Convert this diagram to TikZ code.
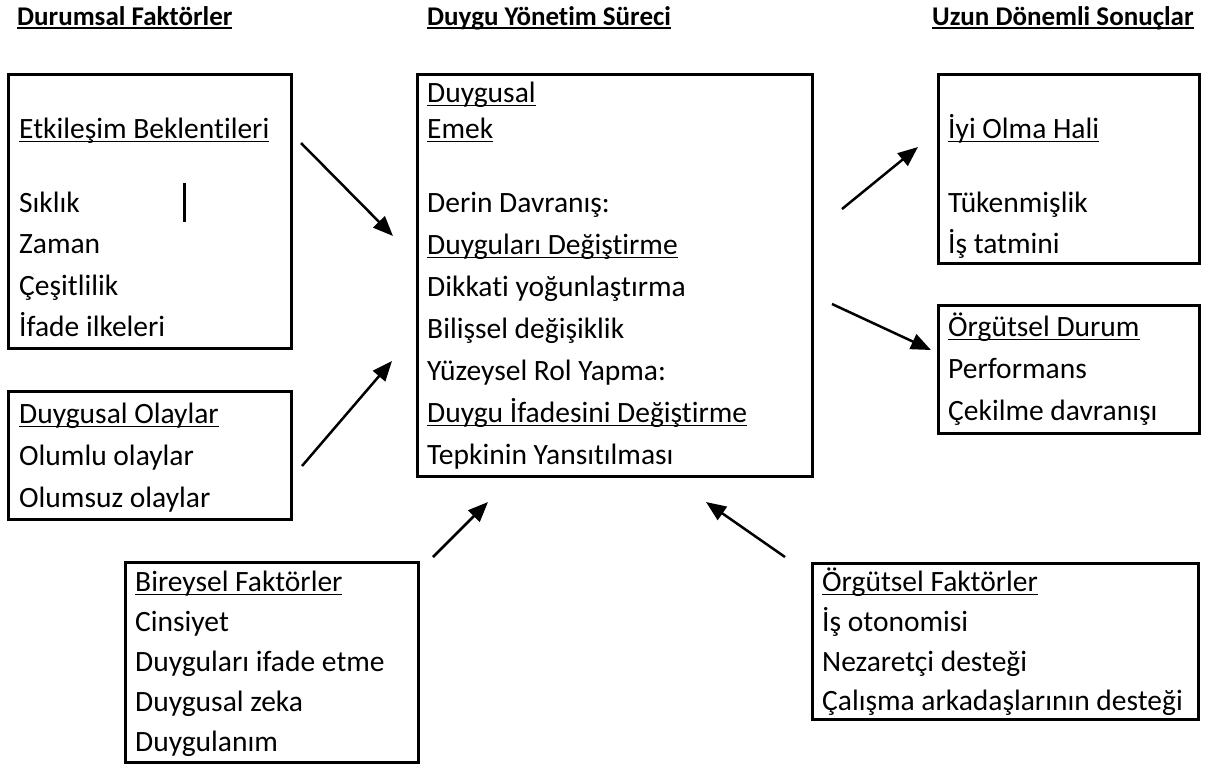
\documentclass[tikz,border=0pt]{standalone}
\usepackage{fontspec}
\setmainfont{Carlito}[Ligatures=NoCommon]
\usetikzlibrary{arrows.meta}
\newlength\undlwd
\newcommand\undl[2][1.5pt]{\settowidth\undlwd{#2}\rlap{\rule[-4pt]{\undlwd}{#1}}#2}
\tikzset{
  box/.style={draw, line width=3pt, inner sep=0pt},
  txt/.style={anchor=base west, inner sep=0pt, font=\fontsize{29.5}{35}\selectfont},
  head/.style={txt, font=\fontsize{27}{32}\selectfont\bfseries},
  arr/.style={->, line width=2.5pt},
}
\begin{document}
\begin{tikzpicture}[x=1pt,y=-1pt,>={Triangle[length=20pt,width=16pt]},line join=miter]
\useasboundingbox (0,0) rectangle (1207,764);
%% headings
\node (head_left) at (17,25) [head] {\undl[2.2pt]{Durumsal Faktörler}};
\node (head_mid) at (427,25) [head] {\undl[2.2pt]{Duygu Yönetim Süreci}};
\node (head_right) at (932,25) [head] {\undl[2.2pt]{Uzun Dönemli Sonuçlar}};
%% boxes
\node (durum_box) at (149.5,211) [box,minimum width=283pt,minimum height=274pt] {};
\node (olay_box) at (149.5,455) [box,minimum width=283pt,minimum height=128pt] {};
\node (surec_box) at (614.5,275) [box,minimum width=395pt,minimum height=402pt] {};
\node (iyi_box) at (1068.5,168.5) [box,minimum width=261pt,minimum height=189pt] {};
\node (orgd_box) at (1068.5,369) [box,minimum width=261pt,minimum height=128pt] {};
\node (birey_box) at (271.5,662) [box,minimum width=293pt,minimum height=200pt] {};
\node (orgf_box) at (1005,641) [box,minimum width=386pt,minimum height=156pt] {};
%% durumsal faktorler
\node (durum_0) at (19,138) [txt] {\undl{Etkileşim Beklentileri}};
\node (durum_1) at (19,212) [txt] {Sıklık};
\node (durum_2) at (19,253) [txt] {Zaman};
\node (durum_3) at (19,295) [txt] {Çeşitlilik};
\node (durum_4) at (19,336) [txt] {İfade ilkeleri};
\coordinate (bar_top) at (184,183);
\coordinate (bar_bot) at (184,222);
\draw [line width=3pt] (bar_top) -- (bar_bot);
%% duygusal olaylar
\node (olay_0) at (19,423) [txt] {\undl{Duygusal Olaylar}};
\node (olay_1) at (19,465) [txt] {Olumlu olaylar};
\node (olay_2) at (19,507) [txt] {Olumsuz olaylar};
%% duygu yonetim sureci
\node (surec_0) at (427,102) [txt] {\undl{Duygusal}};
\node (surec_1) at (427,138) [txt] {\undl{Emek}};
\node (surec_2) at (427,212) [txt] {Derin Davranış:};
\node (surec_3) at (427,254) [txt] {\undl{Duyguları Değiştirme}};
\node (surec_4) at (427,296) [txt] {Dikkati yoğunlaştırma};
\node (surec_5) at (427,338) [txt] {Bilişsel değişiklik};
\node (surec_6) at (427,380) [txt] {Yüzeysel Rol Yapma:};
\node (surec_7) at (427,422) [txt] {\undl{Duygu İfadesini Değiştirme}};
\node (surec_8) at (427,464) [txt] {Tepkinin Yansıtılması};
%% sonuclar
\node (iyi_0) at (948,138) [txt] {\undl{İyi Olma Hali}};
\node (iyi_1) at (948,212) [txt] {Tükenmişlik};
\node (iyi_2) at (948,253) [txt] {İş tatmini};
\node (orgd_0) at (948,336) [txt] {\undl{Örgütsel Durum}};
\node (orgd_1) at (948,378) [txt] {Performans};
\node (orgd_2) at (948,420) [txt] {Çekilme davranışı};
%% bireysel faktorler
\node (birey_0) at (135,591) [txt] {\undl{Bireysel Faktörler}};
\node (birey_1) at (135,631) [txt] {Cinsiyet};
\node (birey_2) at (135,671) [txt] {Duyguları ifade etme};
\node (birey_3) at (135,711) [txt] {Duygusal zeka};
\node (birey_4) at (135,751) [txt] {Duygulanım};
%% orgutsel faktorler
\node (orgf_0) at (822,591) [txt] {\undl{Örgütsel Faktörler}};
\node (orgf_1) at (822,631) [txt] {İş otonomisi};
\node (orgf_2) at (822,671) [txt] {Nezaretçi desteği};
\node (orgf_3) at (822,710) [txt] {Çalışma arkadaşlarının desteği};
%% arrows
\coordinate (a1_s) at (301,143);  \coordinate (a1_e) at (393,236);
\coordinate (a2_s) at (302,466);  \coordinate (a2_e) at (392,361);
\coordinate (a3_s) at (433,557);  \coordinate (a3_e) at (488,502);
\coordinate (a4_s) at (785,557);  \coordinate (a4_e) at (706,502);
\coordinate (a5_s) at (842,209);  \coordinate (a5_e) at (918,147);
\coordinate (a6_s) at (832,304);  \coordinate (a6_e) at (931,350);
\draw [arr] (a1_s) -- (a1_e);
\draw [arr] (a2_s) -- (a2_e);
\draw [arr] (a3_s) -- (a3_e);
\draw [arr] (a4_s) -- (a4_e);
\draw [arr] (a5_s) -- (a5_e);
\draw [arr] (a6_s) -- (a6_e);
%
\end{tikzpicture}
\end{document}
